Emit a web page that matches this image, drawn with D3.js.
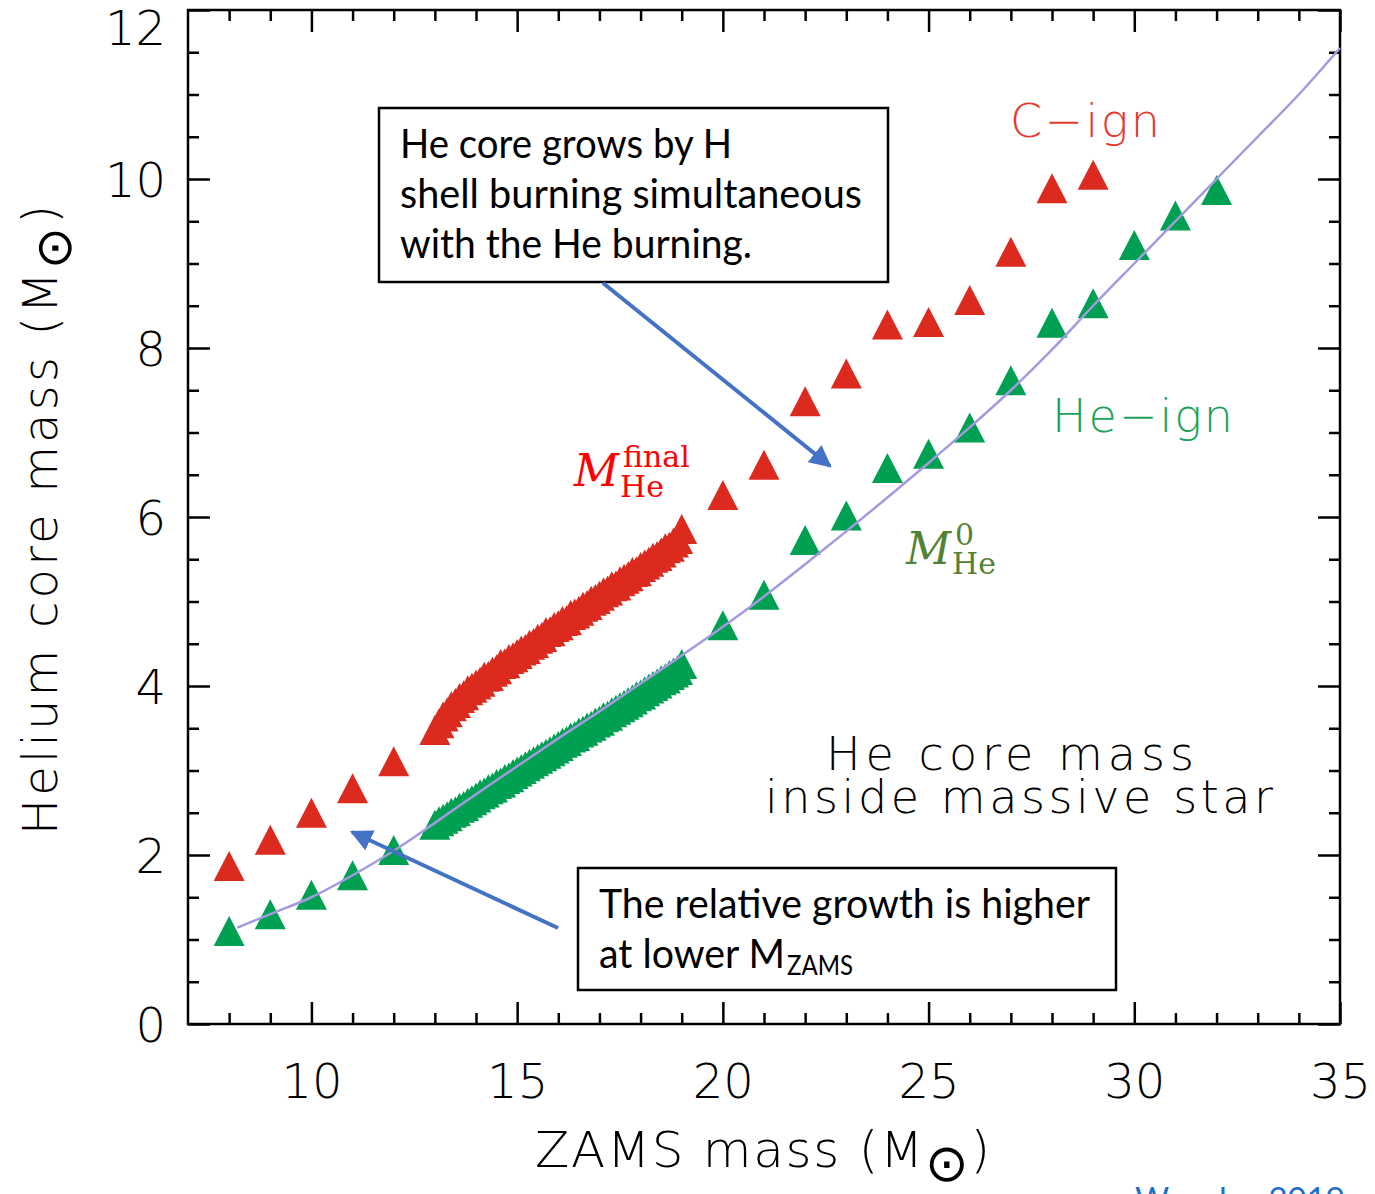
<!DOCTYPE html>
<html lang="en">
<head>
<meta charset="UTF-8">
<title>Helium core mass vs ZAMS mass</title>
<script src="https://d3js.org/d3.v7.min.js"></script>
<style>
    body { margin: 0; background: #fff; }
    .axis-font { font-family: "DejaVu Sans", sans-serif; font-weight: 200; }
    .box-font { font-family: Lato, "Open Sans", sans-serif; }
    .math { font-family: "DejaVu Serif", "Liberation Serif", serif; }
</style>
</head>
<body>
<div id="chart"></div>
<script>
// C-ignition (final) He core mass, single models
const redMass = [8, 9, 10, 11, 12, 20, 21, 22, 23, 24, 25, 26, 27, 28, 29];
const redCore = [1.81, 2.12, 2.44, 2.73, 3.05, 6.2, 6.56, 7.31, 7.64, 8.22, 8.25, 8.51, 9.08, 9.83, 9.99];

// He-ignition He core mass, single models
const greenMass = [8, 9, 10, 11, 12, 20, 21, 22, 23, 24, 25, 26, 27, 28, 29, 30, 31, 32];
const greenCore = [1.04, 1.24, 1.47, 1.7, 2.0, 4.66, 5.02, 5.67, 5.96, 6.52, 6.69, 7.0, 7.56, 8.24, 8.47, 9.16, 9.51, 9.81];

// dense model grid 13 - 19 Msun
const bandMass = [13.0, 13.1, 13.2, 13.3, 13.4, 13.5, 13.6, 13.7, 13.8, 13.9,
                  14.0, 14.1, 14.2, 14.3, 14.4, 14.5, 14.6, 14.7, 14.8, 14.9,
                  15.0, 15.1, 15.2, 15.3, 15.4, 15.5, 15.6, 15.7, 15.8, 15.9,
                  16.0, 16.1, 16.2, 16.3, 16.4, 16.5, 16.6, 16.7, 16.8, 16.9,
                  17.0, 17.1, 17.2, 17.3, 17.4, 17.5, 17.6, 17.7, 17.8, 17.9,
                  18.0, 18.1, 18.2, 18.3, 18.4, 18.5, 18.6, 18.7, 18.8, 18.9, 19.0];
const bandRed = [3.42, 3.50, 3.58, 3.63, 3.70, 3.74, 3.80, 3.83, 3.89, 3.92,
                 3.96, 3.99, 4.05, 4.06, 4.11, 4.14, 4.20, 4.21, 4.26, 4.28,
                 4.32, 4.36, 4.38, 4.43, 4.45, 4.50, 4.52, 4.58, 4.59, 4.64,
                 4.66, 4.71, 4.72, 4.78, 4.80, 4.83, 4.88, 4.90, 4.95, 4.97,
                 5.01, 5.05, 5.07, 5.12, 5.13, 5.18, 5.21, 5.24, 5.29, 5.30,
                 5.35, 5.38, 5.41, 5.46, 5.48, 5.52, 5.57, 5.59, 5.64, 5.68, 5.80];
const bandGreen = [2.30, 2.34, 2.37, 2.40, 2.44, 2.46, 2.50, 2.52, 2.56, 2.59,
                   2.62, 2.66, 2.68, 2.72, 2.74, 2.78, 2.80, 2.84, 2.86, 2.90,
                   2.93, 2.96, 2.99, 3.02, 3.05, 3.08, 3.11, 3.14, 3.17, 3.20,
                   3.23, 3.27, 3.29, 3.33, 3.35, 3.39, 3.41, 3.45, 3.47, 3.51,
                   3.53, 3.57, 3.59, 3.63, 3.66, 3.69, 3.72, 3.75, 3.78, 3.82,
                   3.84, 3.88, 3.91, 3.94, 3.97, 4.01, 4.03, 4.07, 4.10, 4.13, 4.20];

// fitted relation (purple curve)
const fitMass = [8.2, 9, 10, 11, 12, 13, 14, 15, 16, 17, 18, 19, 20, 21, 22, 23, 24, 25, 26, 27, 28, 29, 30, 31, 32, 33, 34, 35];
const fitCore = [1.14, 1.3, 1.5, 1.76, 2.05, 2.38, 2.72, 3.05, 3.38, 3.7, 4.03, 4.36, 4.7, 5.06, 5.44, 5.83, 6.23, 6.64, 7.06, 7.5, 7.98, 8.5, 9.0, 9.5, 10.0, 10.5, 11.0, 11.55];

// axis ticks
const xMajor = [10, 15, 20, 25, 30, 35];
const xMinor = [8, 9, 11, 12, 13, 14, 16, 17, 18, 19, 21, 22, 23, 24, 26, 27, 28, 29, 31, 32, 33, 34];
const yMajor = [0, 2, 4, 6, 8, 10, 12];
const yMinor = [0.5, 1, 1.5, 2.5, 3, 3.5, 4.5, 5, 5.5, 6.5, 7, 7.5, 8.5, 9, 9.5, 10.5, 11, 11.5];

const W = 1375, H = 1194;
const svg = d3.select("#chart").append("svg")
    .attr("width", W).attr("height", H);

const x = d3.scaleLinear().domain([7, 35]).range([188, 1340]);
const y = d3.scaleLinear().domain([0, 12]).range([1024, 10]);

// ---- axes (ticks on all four sides, pointing inward)
function addAxis(axisFn, values, size, transform, labels) {
    const a = axisFn.tickValues(values).tickSizeInner(-size).tickSizeOuter(0);
    if (!labels) a.tickFormat("");
    const g = svg.append("g").attr("transform", transform).call(a);
    g.select(".domain").remove();
    g.selectAll("line").attr("stroke", "#000").attr("stroke-width", 2.5);
    return g;
}
const xb = addAxis(d3.axisBottom(x).tickPadding(40), xMajor, 22, "translate(0,1024)", true);
addAxis(d3.axisBottom(x), xMinor, 11, "translate(0,1024)", false);
addAxis(d3.axisTop(x), xMajor, 22, "translate(0,10)", false);
addAxis(d3.axisTop(x), xMinor, 11, "translate(0,10)", false);
const yl = addAxis(d3.axisLeft(y).tickPadding(22), yMajor, 22, "translate(188,0)", true);
addAxis(d3.axisLeft(y), yMinor, 11, "translate(188,0)", false);
addAxis(d3.axisRight(y), yMajor, 22, "translate(1340,0)", false);
addAxis(d3.axisRight(y), yMinor, 11, "translate(1340,0)", false);

xb.selectAll("text").attr("class", "axis-font").attr("font-size", 48).attr("fill", "#000");
yl.selectAll("text").attr("class", "axis-font").attr("font-size", 48).attr("fill", "#000").attr("dy", "0.36em");
yl.selectAll(".tick").filter(d => d === 12).select("text").attr("dy", "0.72em");

svg.append("rect")
    .attr("x", x(7)).attr("y", y(12))
    .attr("width", x(35) - x(7)).attr("height", y(0) - y(12))
    .attr("fill", "none").attr("stroke", "#000").attr("stroke-width", 2.5);

// ---- triangles
const tri = "M0,-20L15.5,10L-15.5,10Z";
function triangles(xs, ys, color) {
    svg.append("g").selectAll("path")
        .data(xs.map((m, i) => [m, ys[i]]))
        .join("path")
        .attr("d", tri)
        .attr("transform", d => `translate(${x(d[0])},${y(d[1])})`)
        .attr("fill", color);
}
triangles(redMass, redCore, "#dc2a1e");
triangles(bandMass, bandRed, "#dc2a1e");
triangles(greenMass, greenCore, "#00a052");
triangles(bandMass, bandGreen, "#00a052");

svg.append("path")
    .datum(fitMass.map((m, i) => [m, fitCore[i]]))
    .attr("d", d3.line().x(d => x(d[0])).y(d => y(d[1])).curve(d3.curveMonotoneX))
    .attr("fill", "none").attr("stroke", "#a39ae0").attr("stroke-width", 2.5);

// ---- axis titles
const xt = svg.append("text").attr("class", "axis-font")
    .attr("x", 535).attr("y", 1167).attr("font-size", 50)
    .attr("textLength", 455).attr("lengthAdjust", "spacing");
xt.append("tspan").text("ZAMS  mass  (M");
xt.append("tspan").attr("font-size", 52).attr("dy", 14).text("⊙");
xt.append("tspan").attr("dy", -14).text(")");

const yt = svg.append("text").attr("class", "axis-font")
    .attr("transform", "translate(57,835) rotate(-90)")
    .attr("font-size", 48)
    .attr("textLength", 630).attr("lengthAdjust", "spacing");
yt.append("tspan").text("Helium  core  mass  (M");
yt.append("tspan").attr("font-size", 50).attr("dy", 14).text("⊙");
yt.append("tspan").attr("dy", -14).text(")");

// ---- labels inside the plot
svg.append("text").attr("class", "axis-font")
    .attr("x", 1010).attr("y", 137).attr("font-size", 46).attr("fill", "#e53a30")
    .attr("textLength", 150).attr("lengthAdjust", "spacing").text("C−ign");
svg.append("text").attr("class", "axis-font")
    .attr("x", 1052).attr("y", 432).attr("font-size", 46).attr("fill", "#1ba35a")
    .attr("textLength", 181).attr("lengthAdjust", "spacing").text("He−ign");
svg.append("text").attr("class", "axis-font")
    .attr("x", 826).attr("y", 770).attr("font-size", 46)
    .attr("textLength", 368).attr("lengthAdjust", "spacing").text("He  core  mass");
svg.append("text").attr("class", "axis-font")
    .attr("x", 765).attr("y", 813).attr("font-size", 46)
    .attr("textLength", 508).attr("lengthAdjust", "spacing").text("inside  massive  star");

// M_He^final
const mf = svg.append("g").attr("class", "math").attr("fill", "#ff0000");
mf.append("text").attr("x", 574).attr("y", 486).attr("font-size", 44).attr("font-style", "italic").text("M");
mf.append("text").attr("x", 623).attr("y", 467).attr("font-size", 30).text("final");
mf.append("text").attr("x", 620).attr("y", 497).attr("font-size", 30).text("He");

// M_He^0
const m0 = svg.append("g").attr("class", "math").attr("fill", "#548235");
m0.append("text").attr("x", 906).attr("y", 564).attr("font-size", 44).attr("font-style", "italic").text("M");
m0.append("text").attr("x", 955).attr("y", 545).attr("font-size", 30).text("0");
m0.append("text").attr("x", 952).attr("y", 574).attr("font-size", 30).text("He");

// ---- annotation boxes
svg.append("rect").attr("x", 379).attr("y", 108).attr("width", 509).attr("height", 174)
    .attr("fill", "#fff").attr("stroke", "#000").attr("stroke-width", 2.5);
const box1 = [["He core grows by H", 158, 332], ["shell burning simultaneous", 208, 462], ["with the He burning.", 258, 352]];
box1.forEach(([t, by, len]) => {
    svg.append("text").attr("class", "box-font").attr("x", 400).attr("y", by)
        .attr("font-size", 40).attr("textLength", len).attr("lengthAdjust", "spacingAndGlyphs").text(t);
});

svg.append("rect").attr("x", 578).attr("y", 868).attr("width", 538).attr("height", 122)
    .attr("fill", "#fff").attr("stroke", "#000").attr("stroke-width", 2.5);
svg.append("text").attr("class", "box-font").attr("x", 599).attr("y", 918)
    .attr("font-size", 40).attr("textLength", 491).attr("lengthAdjust", "spacingAndGlyphs")
    .text("The relative growth is higher");
svg.append("text").attr("class", "box-font").attr("x", 599).attr("y", 968)
    .attr("font-size", 40).attr("textLength", 186).attr("lengthAdjust", "spacingAndGlyphs")
    .text("at lower M");
svg.append("text").attr("class", "box-font").attr("x", 787).attr("y", 975)
    .attr("font-size", 26).attr("textLength", 66).attr("lengthAdjust", "spacingAndGlyphs")
    .text("ZAMS");

// ---- arrows
svg.append("defs").append("marker")
    .attr("id", "head").attr("viewBox", "0 0 10 10")
    .attr("refX", 9).attr("refY", 5)
    .attr("markerWidth", 5.5).attr("markerHeight", 5.5)
    .attr("orient", "auto-start-reverse")
    .append("path").attr("d", "M0,0L10,5L0,10Z").attr("fill", "#4472c4");

svg.append("line").attr("x1", 603).attr("y1", 283).attr("x2", 830).attr("y2", 466)
    .attr("stroke", "#4472c4").attr("stroke-width", 4).attr("marker-end", "url(#head)");
svg.append("line").attr("x1", 558).attr("y1", 928).attr("x2", 352).attr("y2", 832)
    .attr("stroke", "#4472c4").attr("stroke-width", 4).attr("marker-end", "url(#head)");

// reference, cut by the bottom edge
svg.append("text").attr("class", "box-font").attr("x", 1135).attr("y", 1211)
    .attr("font-size", 32).attr("fill", "#1f6fc5")
    .attr("textLength", 210).attr("lengthAdjust", "spacingAndGlyphs").text("Woosley 2019");
</script>
</body>
</html>
